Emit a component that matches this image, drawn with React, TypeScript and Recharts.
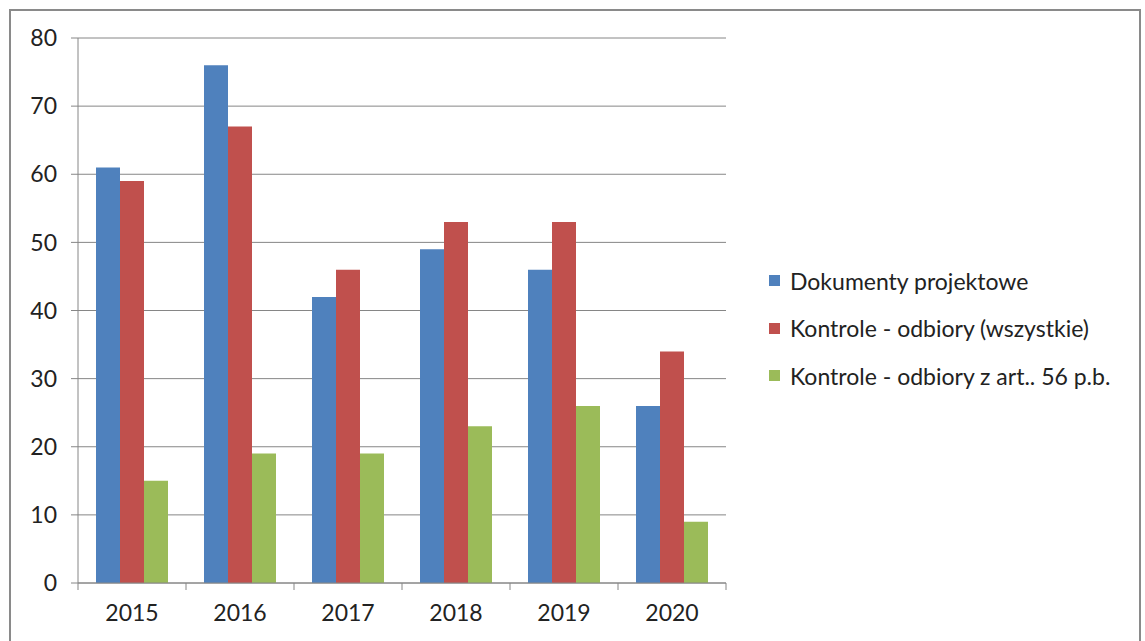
import React from 'react';
import { BarChart, Bar, XAxis, YAxis, CartesianGrid, Legend } from 'recharts';

const years = ['2015', '2016', '2017', '2018', '2019', '2020'];
const dokumenty = [61, 76, 42, 49, 46, 26];
const kontroleWszystkie = [59, 67, 46, 53, 53, 34];
const kontroleArt56 = [15, 19, 19, 23, 26, 9];
const yTicks = [0, 10, 20, 30, 40, 50, 60, 70, 80];

const SERIES = [
  { key: 'dok', name: 'Dokumenty projektowe', color: '#4F81BD' },
  { key: 'all', name: 'Kontrole - odbiory (wszystkie)', color: '#C0504D' },
  { key: 'art', name: 'Kontrole - odbiory z art.. 56 p.b.', color: '#9BBB59' },
];

const data = years.map((year, i) => ({
  year,
  dok: dokumenty[i],
  all: kontroleWszystkie[i],
  art: kontroleArt56[i],
}));

const FONT = 'Lato, "Open Sans", sans-serif';
const GRID = '#868686';
const BAND = 108;

// Excel-style category axis: ticks sit between categories, not at centres
const YearTick = (props: any) => {
  const { x, y, payload, index } = props;
  const half = BAND / 2;
  return (
    <g>
      <line x1={x - half} y1={y} x2={x - half} y2={y + 7} stroke={GRID} />
      {index === years.length - 1 && (
        <line x1={x + half} y1={y} x2={x + half} y2={y + 7} stroke={GRID} />
      )}
      <text x={x} y={y + 38} textAnchor="middle" fontSize={23} fontFamily={FONT} fill="#222">
        {payload.value}
      </text>
    </g>
  );
};

const LegendBox = () => (
  <div style={{ fontFamily: FONT, fontSize: 23, color: '#222' }}>
    {SERIES.map(s => (
      <div key={s.key} style={{ display: 'flex', alignItems: 'center', height: 47.5 }}>
        <span style={{ display: 'inline-block', width: 11, height: 11, background: s.color, marginRight: 10 }} />
        <span>{s.name}</span>
      </div>
    ))}
  </div>
);

export default function App() {
  return (
    <div
      style={{
        position: 'absolute',
        left: 9,
        top: 9,
        width: 1128,
        height: 640,
        border: '2px solid #8a8a8a',
        background: '#fff',
      }}
    >
      <BarChart
        width={1128}
        height={628}
        data={data}
        margin={{ top: 27, right: 413, bottom: 0, left: 0 }}
        barCategoryGap={18}
        barGap={0}
      >
        <CartesianGrid vertical={false} stroke={GRID} />
        <YAxis
          domain={[0, 80]}
          ticks={yTicks}
          width={67}
          tickSize={7}
          tickMargin={14}
          axisLine={{ stroke: GRID }}
          tickLine={{ stroke: GRID }}
          tick={{ fontSize: 23, fontFamily: FONT, fill: '#222' }}
          interval={0}
        />
        <XAxis
          dataKey="year"
          height={56}
          axisLine={{ stroke: GRID }}
          tickLine={false}
          tickSize={0}
          tickMargin={0}
          tick={<YearTick />}
          interval={0}
        />
        <Legend
          layout="vertical"
          align="center"
          verticalAlign="middle"
          content={<LegendBox />}
          wrapperStyle={{ left: 758, top: 246, width: 360 }}
        />
        {SERIES.map(s => (
          <Bar key={s.key} dataKey={s.key} name={s.name} fill={s.color} isAnimationActive={false} />
        ))}
      </BarChart>
    </div>
  );
}
